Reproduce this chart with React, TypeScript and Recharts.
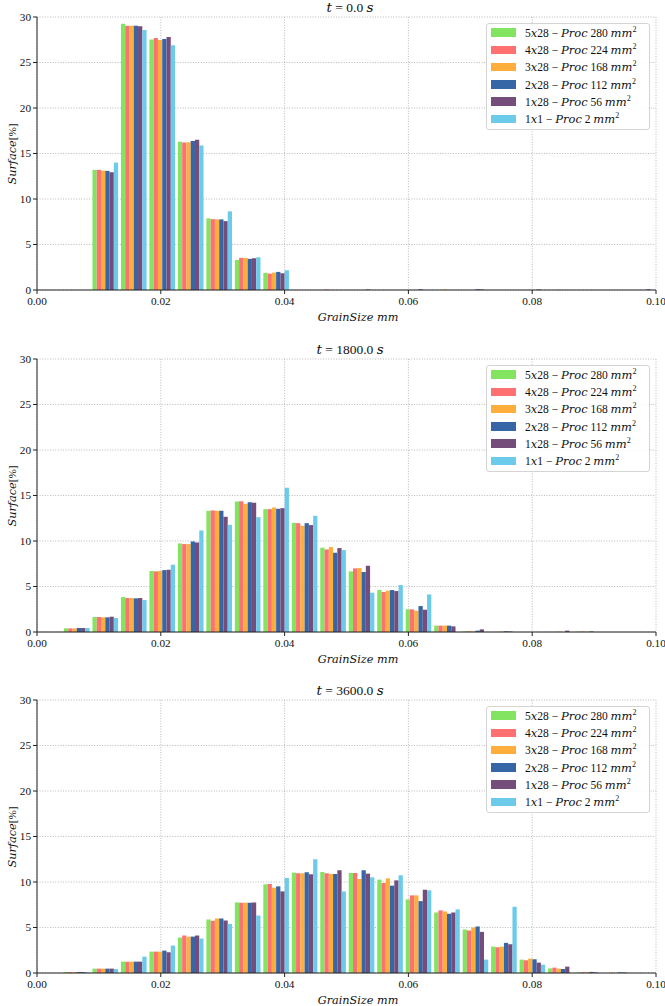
import React from "react";
import { BarChart, Bar, XAxis, YAxis, CartesianGrid } from "recharts";

// bin centres of the grain size histogram (mm)
const binCenters = [
  0.0065, 0.0111, 0.0157, 0.0203, 0.0249, 0.0295, 0.0341, 0.0387, 0.0433, 0.0479, 0.0525,
  0.0571, 0.0617, 0.0663, 0.0709, 0.0755, 0.0801, 0.0847, 0.0893, 0.0939, 0.0985,
];
const xTicks = [0, 0.02, 0.04, 0.06, 0.08, 0.1];
const yTicks = [0, 5, 10, 15, 20, 25, 30];

const layouts = ["5x28", "4x28", "3x28", "2x28", "1x28", "1x1"];
const areas = [280, 224, 168, 112, 56, 2];
const colors = ["#82e460", "#ff7171", "#ffad3b", "#3666a6", "#754d7b", "#6ccbeb"];
const times = ["0.0", "1800.0", "3600.0"];

// t = 0.0 s
const t0_5x28 = [0, 13.2, 29.26, 27.54, 16.29, 7.87, 3.31, 1.88, 0, 0, 0, 0, 0, 0, 0, 0, 0, 0, 0, 0, 0];
const t0_4x28 = [0, 13.2, 29.04, 27.68, 16.21, 7.79, 3.53, 1.8, 0, 0.05, 0, 0, 0, 0, 0, 0, 0, 0, 0, 0, 0];
const t0_3x28 = [0, 13.12, 29.04, 27.46, 16.25, 7.76, 3.53, 1.91, 0, 0, 0, 0, 0, 0.05, 0, 0, 0, 0.04, 0, 0, 0];
const t0_2x28 = [0, 13.09, 29.04, 27.57, 16.36, 7.76, 3.42, 1.99, 0, 0, 0, 0, 0.08, 0, 0.08, 0, 0, 0, 0, 0, 0.07];
const t0_1x28 = [0, 12.94, 28.97, 27.79, 16.5, 7.57, 3.49, 1.84, 0, 0, 0.05, 0, 0, 0, 0.06, 0, 0.06, 0, 0, 0, 0];
const t0_1x1 = [0, 14.0, 28.57, 26.9, 15.88, 8.64, 3.6, 2.17, 0, 0, 0, 0, 0, 0, 0, 0, 0, 0, 0, 0, 0];

// t = 1800.0 s
const t1800_5x28 = [0.4, 1.65, 3.84, 6.7, 9.73, 13.32, 14.34, 13.5, 12.0, 9.26, 6.66, 4.61, 2.49, 0.7, 0.07, 0, 0, 0, 0.05, 0, 0];
const t1800_4x28 = [0.4, 1.65, 3.73, 6.66, 9.66, 13.36, 14.38, 13.5, 11.96, 9.07, 6.99, 4.39, 2.49, 0.7, 0.07, 0.02, 0, 0, 0.05, 0, 0];
const t1800_3x28 = [0.4, 1.61, 3.73, 6.7, 9.66, 13.32, 14.09, 13.68, 11.67, 9.33, 7.03, 4.54, 2.34, 0.7, 0.07, 0.05, 0, 0.05, 0.03, 0, 0];
const t1800_2x28 = [0.44, 1.61, 3.7, 6.8, 9.95, 13.32, 14.27, 13.54, 11.96, 8.71, 6.59, 4.61, 2.85, 0.7, 0.15, 0.08, 0, 0, 0.06, 0, 0];
const t1800_1x28 = [0.44, 1.68, 3.73, 6.84, 9.84, 12.66, 14.2, 13.61, 11.75, 9.22, 7.28, 4.5, 2.45, 0.62, 0.29, 0.06, 0, 0.15, 0, 0, 0];
const t1800_1x1 = [0.44, 1.54, 3.51, 7.39, 11.16, 11.78, 12.62, 15.84, 12.77, 9.0, 4.32, 5.16, 4.13, 0, 0, 0, 0, 0, 0, 0, 0];

// t = 3600.0 s
const t3600_5x28 = [0.1, 0.48, 1.25, 2.35, 3.9, 5.88, 7.76, 9.74, 11.03, 11.1, 10.99, 10.26, 8.09, 6.65, 4.78, 2.9, 1.47, 0.51, 0.07, 0, 0];
const t3600_4x28 = [0.1, 0.48, 1.25, 2.35, 4.12, 5.74, 7.72, 9.78, 10.96, 10.96, 10.99, 9.89, 8.53, 6.88, 4.67, 2.83, 1.4, 0.59, 0.07, 0.04, 0];
const t3600_3x28 = [0.1, 0.48, 1.25, 2.35, 4.0, 5.99, 7.72, 9.38, 10.96, 10.88, 10.33, 10.4, 8.53, 6.76, 5.0, 2.9, 1.58, 0.48, 0.1, 0, 0];
const t3600_2x28 = [0.1, 0.48, 1.25, 2.46, 4.0, 5.99, 7.72, 9.52, 11.07, 10.88, 11.29, 9.6, 7.9, 6.51, 5.11, 3.31, 1.51, 0.44, 0.12, 0.06, 0];
const t3600_1x28 = [0.1, 0.48, 1.25, 2.28, 4.12, 5.77, 7.76, 8.97, 10.85, 11.29, 10.92, 10.18, 9.15, 6.65, 4.52, 3.16, 1.14, 0.7, 0.07, 0.06, 0];
const t3600_1x1 = [0.08, 0.44, 1.8, 3.01, 3.79, 5.4, 6.32, 10.44, 12.5, 8.97, 10.51, 10.74, 9.08, 6.99, 1.47, 7.28, 0.92, 0, 0, 0, 0];

const panels = [
  [t0_5x28, t0_4x28, t0_3x28, t0_2x28, t0_1x28, t0_1x1],
  [t1800_5x28, t1800_4x28, t1800_3x28, t1800_2x28, t1800_1x28, t1800_1x1],
  [t3600_5x28, t3600_4x28, t3600_3x28, t3600_2x28, t3600_1x28, t3600_1x1],
];

const ROMAN = "'Liberation Serif', 'Times New Roman', serif";
const MATH_IT = "'DejaVu Serif', serif";
const PANEL_TOPS = [0, 342, 683];
const PLOT_TOP = 17;
const PLOT_H = 273;
const CHART_H = 335;

function It({ children }: { children: React.ReactNode }) {
  return <span style={{ fontFamily: MATH_IT, fontStyle: "italic" }}>{children}</span>;
}

function SeriesLabel({ i }: { i: number }) {
  const [a, b] = layouts[i].split("x");
  return (
    <>
      {a}
      <It>x</It>
      {b} − <It>Proc</It> {areas[i]} <It>mm</It>
      <span style={{ fontSize: 8, position: "relative", top: -5 }}>2</span>
    </>
  );
}

function LegendBox({ top }: { top: number }) {
  return (
    <div
      style={{
        position: "absolute",
        left: 486,
        top,
        width: 164,
        height: 107,
        boxSizing: "border-box",
        border: "1px solid #d4d4d4",
        borderRadius: 3,
        background: "rgba(255,255,255,0.85)",
      }}
    >
      {layouts.map((l, i) => (
        <React.Fragment key={l}>
          <div
            style={{
              position: "absolute",
              left: 4,
              top: 4.6 + i * 17.3,
              width: 25,
              height: 8.5,
              background: colors[i],
            }}
          />
          <div
            style={{
              position: "absolute",
              left: 38,
              top: 1 + i * 17.3,
              height: 16,
              lineHeight: "16px",
              whiteSpace: "nowrap",
              fontFamily: ROMAN,
              fontSize: 11.5,
              color: "#111",
            }}
          >
            <SeriesLabel i={i} />
          </div>
        </React.Fragment>
      ))}
    </div>
  );
}

function Panel({ index }: { index: number }) {
  const series = panels[index];
  const rows = binCenters.map((x, k) => {
    const row: Record<string, number> = { x };
    series.forEach((s, i) => {
      row[`s${i}`] = s[k];
    });
    return row;
  });
  const top = PANEL_TOPS[index];
  const plotTop = top + PLOT_TOP;
  const plotBottom = plotTop + PLOT_H;

  return (
    <>
      <div style={{ position: "absolute", left: 0, top, width: 665, height: CHART_H }}>
        <BarChart
          width={665}
          height={CHART_H}
          data={rows}
          margin={{ top: PLOT_TOP, right: 9, bottom: 0, left: 0 }}
          barGap={0}
        >
          {series.map((_, i) => (
            <Bar key={i} dataKey={`s${i}`} fill={colors[i]} barSize={4.27} isAnimationActive={false} />
          ))}
          {/* matplotlib draws its grid on top of the patches */}
          <CartesianGrid stroke="#a8a8a8" strokeDasharray="1 1.6" strokeWidth={0.8} />
          <XAxis
            dataKey="x"
            type="number"
            domain={[0, 0.1]}
            ticks={xTicks}
            interval={0}
            allowDataOverflow
            tickFormatter={(v: number) => v.toFixed(2)}
            tickSize={4}
            tickMargin={3}
            height={CHART_H - PLOT_TOP - PLOT_H}
            stroke="#222"
            tick={{ fill: "#111", fontSize: 11.25, fontFamily: ROMAN }}
          />
          <XAxis
            xAxisId="top"
            orientation="top"
            dataKey="x"
            type="number"
            domain={[0, 0.1]}
            allowDataOverflow
            height={0}
            tick={false}
            tickLine={false}
            stroke="#222"
          />
          <YAxis
            domain={[0, 30]}
            ticks={yTicks}
            interval={0}
            allowDataOverflow
            width={37}
            tickSize={4}
            tickMargin={2}
            stroke="#222"
            tick={{ fill: "#111", fontSize: 11.25, fontFamily: ROMAN }}
          />
          <YAxis
            yAxisId="right"
            orientation="right"
            domain={[0, 30]}
            width={0}
            tick={false}
            tickLine={false}
            stroke="#222"
          />
        </BarChart>
      </div>

      {/* title */}
      <div
        style={{
          position: "absolute",
          left: 250,
          width: 200,
          top: plotTop - 17,
          height: 14,
          lineHeight: "14px",
          textAlign: "center",
          fontFamily: ROMAN,
          fontSize: 13.5,
          color: "#111",
        }}
      >
        <It>t</It> = {times[index]} <It>s</It>
      </div>

      {/* x label */}
      <div
        style={{
          position: "absolute",
          left: 258,
          width: 200,
          top: plotBottom + 21,
          height: 12,
          lineHeight: "12px",
          textAlign: "center",
          fontFamily: ROMAN,
          fontSize: 11.25,
          color: "#111",
        }}
      >
        <It>GrainSize mm</It>
      </div>

      {/* y label */}
      <div
        style={{
          position: "absolute",
          left: 12 - 50,
          width: 100,
          top: plotTop + PLOT_H / 2 - 8,
          height: 16,
          lineHeight: "16px",
          textAlign: "center",
          transform: "rotate(-90deg)",
          fontFamily: ROMAN,
          fontSize: 11.25,
          color: "#111",
        }}
      >
        <It>Surface</It>[%]
      </div>

      <LegendBox top={plotTop + 5.7} />
    </>
  );
}

export default function App() {
  return (
    <div style={{ position: "absolute", left: 0, top: 0, width: 665, height: 1006, background: "#fff" }}>
      {panels.map((_, i) => (
        <Panel key={i} index={i} />
      ))}
    </div>
  );
}
